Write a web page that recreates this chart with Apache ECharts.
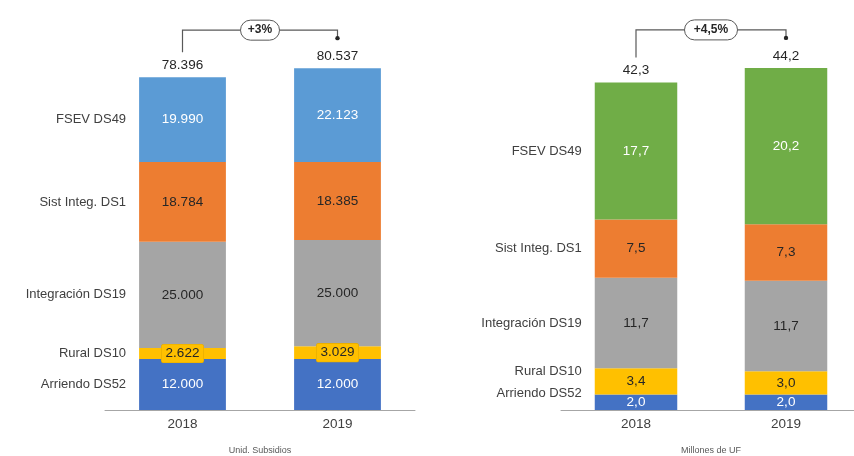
<!DOCTYPE html>
<html>
<head>
<meta charset="utf-8">
<script src="https://cdn.jsdelivr.net/npm/echarts@6/dist/echarts.min.js"></script>
<style>
  html, body { margin: 0; padding: 0; background: #fff; }
  #chart { width: 854px; height: 456px; }
</style>
</head>
<body>
<div id="chart"></div>
<script>
// datos
const years = ['2018', '2019']
const rowNames = ['Arriendo DS52', 'Rural DS10', 'Integración DS19', 'Sist Integ. DS1', 'FSEV DS49']

const unidArriendo = [12000, 12000]
const unidRural = [2622, 3029]
const unidIntegracion = [25000, 25000]
const unidSistInteg = [18784, 18385]
const unidFsev = [19990, 22123]

const ufArriendo = [2.0, 2.0]
const ufRural = [3.4, 3.0]
const ufIntegracion = [11.7, 11.7]
const ufSistInteg = [7.5, 7.3]
const ufFsev = [17.7, 20.2]

const growthLabels = ['+3%', '+4,5%']
const axisTitles = ['Unid. Subsidios', 'Millones de UF']

const FONT = 'Liberation Sans'
const fmtUnid = v => String(v).replace(/\B(?=(\d{3})+(?!\d))/g, '.')
const fmtUf = v => v.toFixed(1).replace('.', ',')

const panels = [
  {
    values: [unidArriendo, unidRural, unidIntegracion, unidSistInteg, unidFsev],
    colors: ['#4472C4', '#FFC000', '#A5A5A5', '#ED7D31', '#5B9BD5'],
    fmt: fmtUnid,
    barWidth: '56%',
    nameOffsets: [[0, 0], [0, 0], [0, 0], [0, 0], [0, 0]]
  },
  {
    values: [ufArriendo, ufRural, ufIntegracion, ufSistInteg, ufFsev],
    colors: ['#4472C4', '#FFC000', '#A5A5A5', '#ED7D31', '#70AD47'],
    fmt: fmtUf,
    barWidth: '55%',
    nameOffsets: [[0, -9], [0, -10], [0, 0], [0, 0], [0, 0]]
  }
]
const valueColors = ['#ffffff', '#262626', '#262626', '#262626', '#ffffff']

panels.forEach(p => {
  p.totals = years.map((_, i) => p.values.reduce((s, arr) => s + arr[i], 0))
})

const series = []
panels.forEach((p, g) => {
  p.values.forEach((vals, k) => {
    // segmentos con su valor
    series.push({
      type: 'bar', name: rowNames[k], stack: 'main' + g,
      xAxisIndex: g, yAxisIndex: g,
      barWidth: p.barWidth, barGap: '-100%',
      data: vals,
      itemStyle: { color: p.colors[k] },
      label: Object.assign({
        show: true, position: 'inside', fontFamily: FONT, fontSize: 13.5,
        color: valueColors[k], formatter: d => p.fmt(d.value)
      }, (k === 1 && g === 0) ? { backgroundColor: '#FFC000', padding: [2, 4], borderRadius: 2, borderColor: '#e3aa00', borderWidth: 0.6 } : {})
    })
    // nombres a la izquierda de 2018
    series.push({
      type: 'bar', name: rowNames[k] + ' n', stack: 'names' + g,
      xAxisIndex: g, yAxisIndex: g,
      barWidth: p.barWidth, barGap: '-100%',
      data: [vals[0], '-'],
      itemStyle: { color: 'rgba(0,0,0,0)' },
      silent: true,
      label: {
        show: true, position: 'left', distance: 13, fontFamily: FONT, fontSize: 13,
        color: '#404040', offset: p.nameOffsets[k], formatter: () => rowNames[k]
      }
    })
  })
  // total encima
  series.push({
    type: 'bar', name: 'total' + g, stack: 'main' + g,
    xAxisIndex: g, yAxisIndex: g,
    barWidth: p.barWidth, barGap: '-100%',
    data: [0, 0],
    itemStyle: { color: 'rgba(0,0,0,0)' },
    label: {
      show: true, position: 'top', distance: 5, fontFamily: FONT, fontSize: 13.5,
      color: '#262626', formatter: d => p.fmt(p.totals[d.dataIndex])
    }
  })
})

const xAxisBase = (g) => ({
  type: 'category', gridIndex: g, data: years,
  axisTick: { show: false },
  axisLine: { lineStyle: { color: '#a6a6a6', width: 1 } },
  axisLabel: { margin: 7, fontFamily: FONT, fontSize: 13.5, color: '#404040' },
  name: axisTitles[g], nameLocation: 'middle', nameGap: 36,
  nameTextStyle: { fontFamily: FONT, fontSize: 9, color: '#595959' }
})

const chart = echarts.init(document.getElementById('chart'))
chart.setOption({
  animation: false,
  grid: [
    { left: 105, top: 28, width: 310, height: 382, outerBoundsMode: 'none', containLabel: false },
    { left: 561, top: 23, width: 300, height: 387, outerBoundsMode: 'none', containLabel: false }
  ],
  xAxis: [xAxisBase(0), xAxisBase(1)],
  yAxis: [
    { type: 'value', gridIndex: 0, min: 0, max: 90000, show: false },
    { type: 'value', gridIndex: 1, min: 0, max: 50, show: false }
  ],
  series
})

// corchetes de variación
const graphic = []
panels.forEach((p, g) => {
  const a = chart.convertToPixel({ xAxisIndex: g, yAxisIndex: g }, [years[0], p.totals[0]])
  const b = chart.convertToPixel({ xAxisIndex: g, yAxisIndex: g }, [years[1], p.totals[1]])
  const yH = Math.min(a[1], b[1]) - 38
  const endY = b[1] - 30
  graphic.push({
    type: 'polyline', silent: true,
    shape: { points: [[a[0], a[1] - 25], [a[0], yH], [b[0], yH], [b[0], endY]] },
    style: { stroke: '#595959', lineWidth: 1.2, fill: null }
  })
  graphic.push({
    type: 'circle', silent: true,
    shape: { cx: b[0], cy: endY, r: 2.2 },
    style: { fill: '#262626' }
  })
  const w = 18 + 7 * growthLabels[g].length
  const cx = (a[0] + b[0]) / 2
  graphic.push({
    type: 'rect', silent: true,
    shape: { x: cx - w / 2, y: yH - 10, width: w, height: 20, r: 10 },
    style: { fill: '#ffffff', stroke: '#595959', lineWidth: 1 }
  })
  graphic.push({
    type: 'text', silent: true, x: cx, y: yH,
    style: { text: growthLabels[g], fontFamily: FONT, fontSize: 12, fontWeight: 'bold', fill: '#262626', align: 'center', verticalAlign: 'middle' }
  })
})
chart.setOption({ graphic })
</script>
</body>
</html>
